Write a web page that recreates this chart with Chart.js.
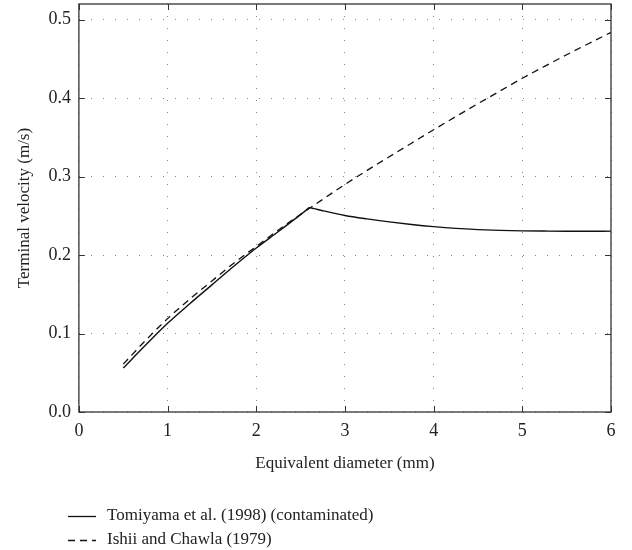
<!DOCTYPE html>
<html>
<head>
<meta charset="utf-8">
<script src="https://cdn.jsdelivr.net/npm/chart.js@4.4.1/dist/chart.umd.min.js"></script>
<style>
  html, body { margin: 0; padding: 0; background: #fff; }
  #wrap { position: relative; width: 632px; height: 550px; }
</style>
</head>
<body>
<div id="wrap"><canvas id="velChart"></canvas></div>
<script>
// diameter (mm) for each curve
const diamTomiyama = [0.5, 0.75, 1, 1.25, 1.5, 1.75, 2, 2.25, 2.5, 2.55, 2.6, 2.65, 2.75, 3, 3.25, 3.5, 3.75, 4, 4.25, 4.5, 4.75, 5, 5.25, 5.5, 5.75, 6];
const velTomiyama = [0.056, 0.085, 0.113, 0.138, 0.162, 0.186, 0.209, 0.230, 0.2515, 0.256, 0.2605, 0.2592, 0.2565, 0.2505, 0.2461, 0.2423, 0.2390, 0.2362, 0.2340, 0.2325, 0.2315, 0.2309, 0.2306, 0.2304, 0.2304, 0.2305];

const diamIshii = [0.5, 0.75, 1, 1.25, 1.5, 1.75, 2, 2.25, 2.5, 2.75, 3, 3.25, 3.5, 3.75, 4, 4.25, 4.5, 4.75, 5, 5.25, 5.5, 5.75, 6];
const velIshii = [0.061, 0.091, 0.119, 0.144, 0.167, 0.190, 0.211, 0.232, 0.252, 0.271, 0.290, 0.3079, 0.3254, 0.3426, 0.3597, 0.3765, 0.3930, 0.4092, 0.4253, 0.4405, 0.4553, 0.4697, 0.4838];

const xTicks = [0, 1, 2, 3, 4, 5, 6];
const yTicks = [0, 0.1, 0.2, 0.3, 0.4, 0.5];

const seriesNames = ['Tomiyama et al. (1998) (contaminated)', 'Ishii and Chawla (1979)'];

const serif = "'Liberation Serif', 'DejaVu Serif', serif";
const ink = '#222';

function toPoints(xs, ys) {
  return xs.map((x, i) => ({ x: x, y: ys[i] }));
}

// box around the plot plus inward tick marks on all four sides
const frame = {
  id: 'frame',
  afterDraw(chart) {
    const { ctx, chartArea: a, scales } = chart;
    ctx.save();
    ctx.strokeStyle = '#333';
    ctx.lineWidth = 1.3;
    ctx.strokeRect(a.left, a.top, a.right - a.left, a.bottom - a.top);
    ctx.lineWidth = 1;
    const len = 6;
    xTicks.forEach(v => {
      const px = Math.round(scales.x.getPixelForValue(v)) + 0.5;
      ctx.beginPath();
      ctx.moveTo(px, a.bottom); ctx.lineTo(px, a.bottom - len);
      ctx.moveTo(px, a.top); ctx.lineTo(px, a.top + len);
      ctx.stroke();
    });
    yTicks.forEach(v => {
      const py = Math.round(scales.y.getPixelForValue(v)) + 0.5;
      ctx.beginPath();
      ctx.moveTo(a.left, py); ctx.lineTo(a.left + len, py);
      ctx.moveTo(a.right, py); ctx.lineTo(a.right - len, py);
      ctx.stroke();
    });
    ctx.restore();
  }
};

// stacked legend under the axis title
const stackedLegend = {
  id: 'stackedLegend',
  afterDraw(chart) {
    const ctx = chart.ctx;
    ctx.save();
    ctx.font = '17px ' + serif;
    ctx.fillStyle = ink;
    ctx.textBaseline = 'middle';
    chart.data.datasets.forEach((ds, i) => {
      const y = 516 + i * 24;
      ctx.strokeStyle = ds.borderColor;
      ctx.lineWidth = 1.3;
      ctx.setLineDash(ds.borderDash || []);
      ctx.beginPath();
      ctx.moveTo(68, y + 0.5);
      ctx.lineTo(96, y + 0.5);
      ctx.stroke();
      ctx.setLineDash([]);
      ctx.fillText(ds.label, 107, y);
    });
    ctx.restore();
  }
};

new Chart(document.getElementById('velChart'), {
  type: 'line',
  data: {
    datasets: [
      {
        label: seriesNames[0],
        data: toPoints(diamTomiyama, velTomiyama),
        borderColor: '#111',
        borderWidth: 1.4,
        pointRadius: 0,
        cubicInterpolationMode: 'monotone',
        fill: false
      },
      {
        label: seriesNames[1],
        data: toPoints(diamIshii, velIshii),
        borderColor: '#111',
        borderWidth: 1.3,
        borderDash: [7, 5],
        pointRadius: 0,
        cubicInterpolationMode: 'monotone',
        fill: false
      }
    ]
  },
  options: {
    responsive: true,
    maintainAspectRatio: false,
    animation: false,
    layout: { padding: { top: 4, right: 21, bottom: 72, left: 10 } },
    plugins: {
      legend: { display: false },
      tooltip: { enabled: false }
    },
    scales: {
      x: {
        type: 'linear',
        min: 0,
        max: 6,
        afterBuildTicks: s => { s.ticks = xTicks.map(v => ({ value: v })); },
        grid: { color: '#888', lineWidth: 1, drawTicks: false },
        border: { display: false, dash: [1, 11] },
        ticks: { font: { family: serif, size: 18 }, color: ink, padding: 8, maxRotation: 0 },
        title: { display: true, text: 'Equivalent diameter (mm)', font: { family: serif, size: 17 }, color: ink, padding: { top: 4 } }
      },
      y: {
        type: 'linear',
        min: 0,
        max: 0.52,
        afterBuildTicks: s => { s.ticks = yTicks.map(v => ({ value: v })); },
        // top label sits below the axis end, so no extra room is needed above
        afterFit: s => { s.paddingTop = 0; },
        grid: { color: '#888', lineWidth: 1, drawTicks: false },
        border: { display: false, dash: [1, 11] },
        ticks: { font: { family: serif, size: 18 }, color: ink, padding: 8, callback: v => v.toFixed(1) },
        title: { display: true, text: 'Terminal velocity (m/s)', font: { family: serif, size: 17 }, color: ink, padding: { bottom: 6 } }
      }
    }
  },
  plugins: [frame, stackedLegend]
});
</script>
</body>
</html>
